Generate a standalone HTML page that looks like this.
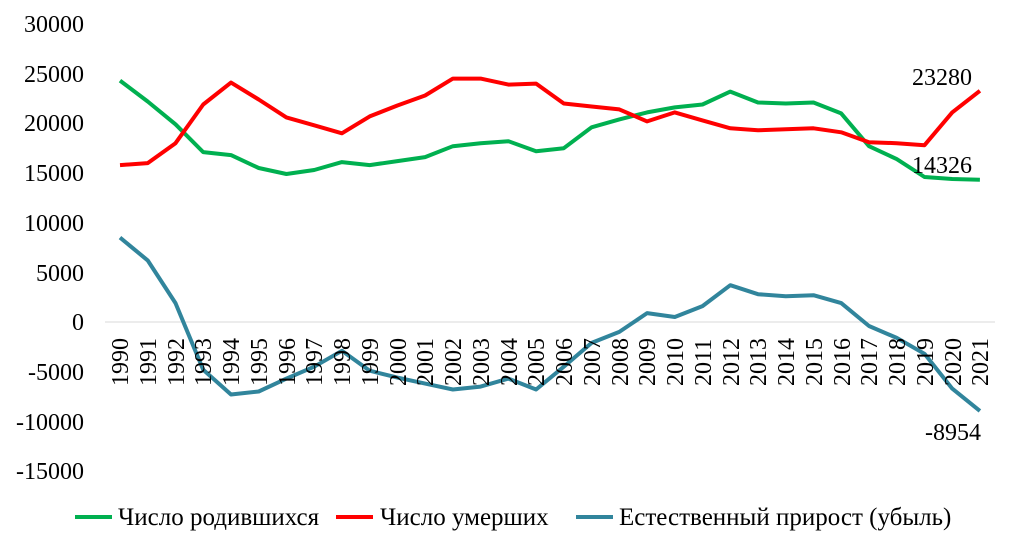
<!DOCTYPE html>
<html><head><meta charset="utf-8">
<style>
body{margin:0;background:#fff;}
svg{display:block;}
text{font-family:"Liberation Serif",serif;}
</style></head><body>
<svg id="s" width="1016" height="549" viewBox="0 0 1016 549">
<g font-size="24" text-anchor="end" fill="#000">
<text x="84" y="32">30000</text>
<text x="84" y="82">25000</text>
<text x="84" y="131">20000</text>
<text x="84" y="181">15000</text>
<text x="84" y="231">10000</text>
<text x="84" y="281">5000</text>
<text x="84" y="330">0</text>
<text x="84" y="380">-5000</text>
<text x="84" y="430">-10000</text>
<text x="84" y="479">-15000</text>
</g>
<line x1="105" y1="322" x2="995" y2="322" stroke="#d9d9d9" stroke-width="1"/>
<g id="lines"></g>
<g font-size="24" fill="#000">
<text x="912" y="85">23280</text>
<text x="912" y="173">14326</text>
<text x="925" y="440">-8954</text>
</g>
<g font-size="25" fill="#000">
<line x1="75" y1="517" x2="112" y2="517" stroke="#00b050" stroke-width="4"/>
<text x="118" y="525">Число родившихся</text>
<line x1="336" y1="517" x2="373" y2="517" stroke="#ff0000" stroke-width="4"/>
<text x="380" y="525">Число умерших</text>
<line x1="576" y1="517" x2="613" y2="517" stroke="#31859c" stroke-width="4"/>
<text x="619" y="525">Естественный прирост (убыль)</text>
</g>
<g font-size="24" fill="#000">
<text transform="translate(128,386) rotate(-90)">1990</text>
<text transform="translate(156,386) rotate(-90)">1991</text>
<text transform="translate(184,386) rotate(-90)">1992</text>
<text transform="translate(211,386) rotate(-90)">1993</text>
<text transform="translate(239,386) rotate(-90)">1994</text>
<text transform="translate(267,386) rotate(-90)">1995</text>
<text transform="translate(295,386) rotate(-90)">1996</text>
<text transform="translate(322,386) rotate(-90)">1997</text>
<text transform="translate(350,386) rotate(-90)">1998</text>
<text transform="translate(378,386) rotate(-90)">1999</text>
<text transform="translate(406,386) rotate(-90)">2000</text>
<text transform="translate(433,386) rotate(-90)">2001</text>
<text transform="translate(461,386) rotate(-90)">2002</text>
<text transform="translate(489,386) rotate(-90)">2003</text>
<text transform="translate(517,386) rotate(-90)">2004</text>
<text transform="translate(544,386) rotate(-90)">2005</text>
<text transform="translate(572,386) rotate(-90)">2006</text>
<text transform="translate(600,386) rotate(-90)">2007</text>
<text transform="translate(628,386) rotate(-90)">2008</text>
<text transform="translate(655,386) rotate(-90)">2009</text>
<text transform="translate(683,386) rotate(-90)">2010</text>
<text transform="translate(711,386) rotate(-90)">2011</text>
<text transform="translate(739,386) rotate(-90)">2012</text>
<text transform="translate(766,386) rotate(-90)">2013</text>
<text transform="translate(794,386) rotate(-90)">2014</text>
<text transform="translate(822,386) rotate(-90)">2015</text>
<text transform="translate(850,386) rotate(-90)">2016</text>
<text transform="translate(877,386) rotate(-90)">2017</text>
<text transform="translate(905,386) rotate(-90)">2018</text>
<text transform="translate(933,386) rotate(-90)">2019</text>
<text transform="translate(961,386) rotate(-90)">2020</text>
<text transform="translate(988,386) rotate(-90)">2021</text>
</g>
</svg>
<script>
var b=[24300,22200,19900,17100,16800,15500,14900,15300,16100,15800,16200,16600,17700,18000,18200,17200,17500,19600,20400,21100,21600,21900,23200,22100,22000,22100,21000,17700,16400,14600,14400,14326];
var d=[15800,16000,18000,21900,24100,22400,20600,19800,19000,20700,21800,22800,24500,24500,23900,24000,22000,21700,21400,20200,21100,20300,19500,19300,19400,19500,19100,18100,18000,17800,21100,23280];
var n=[8500,6200,1900,-4800,-7300,-7000,-5700,-4500,-2900,-4900,-5600,-6200,-6800,-6500,-5700,-6800,-4500,-2100,-1000,900,500,1600,3700,2800,2600,2700,1900,-400,-1600,-3200,-6700,-8954];
function pts(a){return a.map(function(v,i){return (120+i*27.74).toFixed(1)+","+(322-v*0.009933).toFixed(1)}).join(" ")}
var g=document.getElementById("lines"),h="";
[[b,"#00b050"],[d,"#ff0000"],[n,"#31859c"]].forEach(function(s){h+='<polyline fill="none" stroke-width="4" stroke-linejoin="round" stroke="'+s[1]+'" points="'+pts(s[0])+'"/>'});
g.innerHTML=h;
</script>
</body></html>
